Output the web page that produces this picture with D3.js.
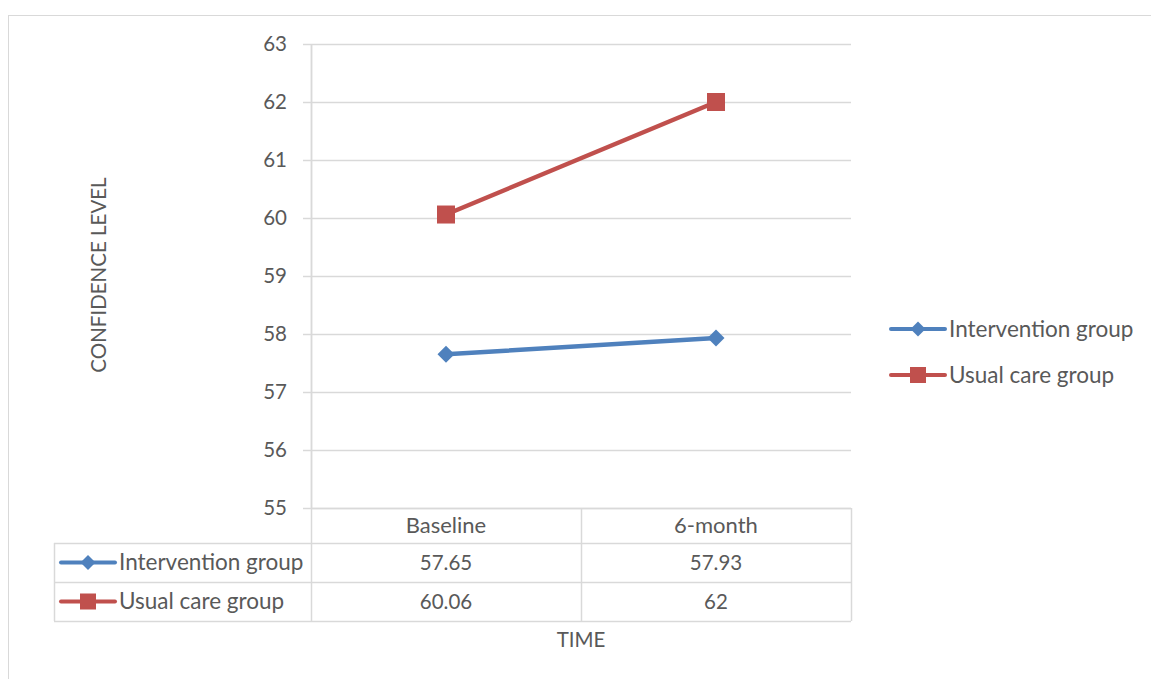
<!DOCTYPE html>
<html>
<head>
<meta charset="utf-8">
<script src="https://cdn.jsdelivr.net/npm/d3@7"></script>
<style>
  html, body { margin: 0; padding: 0; background: #fff; }
  svg { display: block; }
  text { font-family: Lato, "Open Sans", "Liberation Sans", sans-serif; fill: #595959; }
</style>
</head>
<body>
<svg id="chart" width="1151" height="679"></svg>
<script>
// Time points and confidence scores per group
const categories = ["Baseline", "6-month"];
const seriesNames = ["Intervention group", "Usual care group"];
const interventionValues = [57.65, 57.93];
const usualCareValues = [60.06, 62];
const yTicks = [55, 56, 57, 58, 59, 60, 61, 62, 63];
const valueLabels = [["57.65", "57.93"], ["60.06", "62"]];

const series = [
  { name: seriesNames[0], values: interventionValues, color: "#4F81BD", marker: "diamond" },
  { name: seriesNames[1], values: usualCareValues, color: "#C0504D", marker: "square" }
];

const svg = d3.select("#chart");
const gridColor = "#D9D9D9";
const numberSize = 20.5;
const wordSize = 22.5;
const titleSize = 20.5;

// Chart frame
svg.append("rect")
  .attr("x", 8.5).attr("y", 15.5)
  .attr("width", 1160).attr("height", 700)
  .attr("fill", "none").attr("stroke", gridColor).attr("stroke-width", 1);

const plot = { left: 311, right: 851, top: 44, bottom: 508 };

const x = d3.scaleBand().domain(categories).range([plot.left, plot.right]).padding(0);
const y = d3.scaleLinear().domain([55, 63]).range([plot.bottom, plot.top]);

// Horizontal gridlines
svg.append("g").selectAll("line").data(yTicks).join("line")
  .attr("x1", plot.left - 8).attr("x2", plot.right)
  .attr("y1", d => Math.round(y(d)) + 0.5).attr("y2", d => Math.round(y(d)) + 0.5)
  .attr("stroke", gridColor).attr("stroke-width", 1.5);

// Y axis line
svg.append("line")
  .attr("x1", plot.left + 0.5).attr("x2", plot.left + 0.5)
  .attr("y1", plot.top).attr("y2", plot.bottom)
  .attr("stroke", gridColor).attr("stroke-width", 1.5);

// Y tick labels
svg.append("g").selectAll("text").data(yTicks).join("text")
  .attr("x", 287).attr("y", d => y(d))
  .attr("dy", "0.35em").attr("text-anchor", "end")
  .attr("font-size", numberSize)
  .text(d => d);

// Y axis title
svg.append("text")
  .attr("transform", "translate(106,275) rotate(-90)")
  .attr("text-anchor", "middle")
  .attr("font-size", titleSize)
  .text("CONFIDENCE LEVEL");

// Data table beneath the plot
const table = { left: 54, rowTops: [508, 543, 582, 621] };
const tg = svg.append("g");
// Horizontal rules of the table
tg.append("line").attr("x1", plot.left).attr("x2", plot.right)
  .attr("y1", table.rowTops[0] + 0.5).attr("y2", table.rowTops[0] + 0.5)
  .attr("stroke", gridColor).attr("stroke-width", 1.5);
table.rowTops.slice(1).forEach(t => {
  tg.append("line").attr("x1", table.left).attr("x2", plot.right)
    .attr("y1", t + 0.5).attr("y2", t + 0.5)
    .attr("stroke", gridColor).attr("stroke-width", 1.5);
});
// Vertical rules
[plot.left, ...categories.map(c => x(c) + x.bandwidth())].forEach((vx, i) => {
  tg.append("line").attr("x1", vx + 0.5).attr("x2", vx + 0.5)
    .attr("y1", i === 0 ? plot.top : table.rowTops[0]).attr("y2", table.rowTops[3])
    .attr("stroke", gridColor).attr("stroke-width", 1.5);
});
tg.append("line").attr("x1", table.left + 0.5).attr("x2", table.left + 0.5)
  .attr("y1", table.rowTops[1]).attr("y2", table.rowTops[3])
  .attr("stroke", gridColor).attr("stroke-width", 1.5);

// Column headers
tg.selectAll("text.hdr").data(categories).join("text")
  .attr("class", "hdr")
  .attr("x", d => x(d) + x.bandwidth() / 2)
  .attr("y", (table.rowTops[0] + table.rowTops[1]) / 2)
  .attr("dy", "0.35em").attr("text-anchor", "middle").attr("font-size", 22)
  .text(d => d);

function drawMarker(g, type, cx, cy, color, size) {
  if (type === "diamond") {
    const s = size / 2;
    g.append("path")
      .attr("d", `M${cx},${cy - s}L${cx + s},${cy}L${cx},${cy + s}L${cx - s},${cy}Z`)
      .attr("fill", color);
  } else {
    g.append("rect")
      .attr("x", cx - size / 2).attr("y", cy - size / 2)
      .attr("width", size).attr("height", size)
      .attr("fill", color);
  }
}

function legendKey(g, s, x0, cy, fontSize) {
  g.append("line").attr("x1", x0).attr("x2", x0 + 54)
    .attr("y1", cy).attr("y2", cy)
    .attr("stroke", s.color).attr("stroke-width", 4).attr("stroke-linecap", "round");
  drawMarker(g, s.marker, x0 + 27, cy, s.color, s.marker === "diamond" ? 15 : 16);
  g.append("text").attr("x", x0 + 58).attr("y", cy)
    .attr("dy", "0.35em").attr("font-size", fontSize).text(s.name);
}

// Table rows: legend key plus values
series.forEach((s, i) => {
  const cy = (table.rowTops[i + 1] + table.rowTops[i + 2]) / 2;
  legendKey(tg, s, 61, cy, wordSize);
  categories.forEach((c, j) => {
    tg.append("text")
      .attr("x", x(c) + x.bandwidth() / 2).attr("y", cy)
      .attr("dy", "0.35em").attr("text-anchor", "middle").attr("font-size", numberSize)
      .text(valueLabels[i][j]);
  });
});

// X axis title
svg.append("text")
  .attr("x", (plot.left + plot.right) / 2).attr("y", 640)
  .attr("dy", "0.35em").attr("text-anchor", "middle").attr("font-size", titleSize)
  .text("TIME");

// Series lines and markers
const line = d3.line()
  .x((d, i) => x(categories[i]) + x.bandwidth() / 2)
  .y(d => y(d));

series.forEach(s => {
  svg.append("path")
    .datum(s.values)
    .attr("d", line)
    .attr("fill", "none")
    .attr("stroke", s.color)
    .attr("stroke-width", 4.5)
    .attr("stroke-linecap", "round");
  const mg = svg.append("g");
  s.values.forEach((v, i) => {
    drawMarker(mg, s.marker, x(categories[i]) + x.bandwidth() / 2, y(v), s.color, s.marker === "diamond" ? 17 : 18);
  });
});

// Right-hand legend
const lg = svg.append("g");
series.forEach((s, i) => {
  legendKey(lg, s, 891, 329 + i * 46, wordSize);
});
</script>
</body>
</html>
